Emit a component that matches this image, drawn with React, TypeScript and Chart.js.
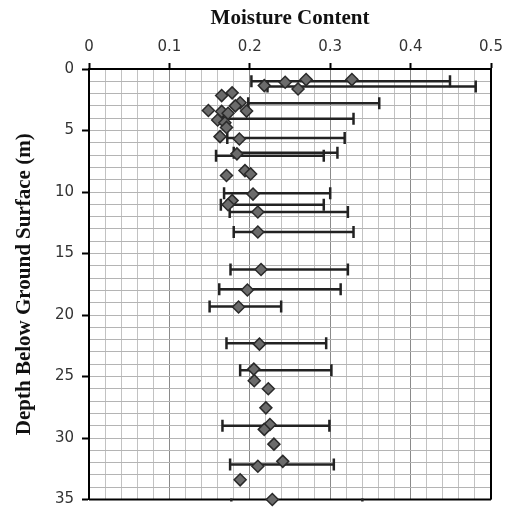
import React, { useEffect, useRef } from "react";
import { Chart, registerables } from "chart.js";

Chart.register(...registerables);

// Measured points: depth (m) and moisture content
const pointDepth = [0.86, 0.86, 1.08, 1.35, 1.62, 1.94, 2.16, 2.75, 3.0, 3.37, 3.45, 3.42, 3.6, 4.15, 4.37, 4.75, 5.5, 5.69, 6.9, 8.26, 8.53, 8.66, 10.17, 10.7, 11.04, 11.63, 13.25, 16.3, 17.97, 19.35, 22.37, 24.4, 25.34, 26.0, 27.55, 28.9, 29.3, 30.5, 31.9, 32.3, 33.4, 35.0];
const pointMoisture = [0.27, 0.327, 0.244, 0.218, 0.26, 0.178, 0.165, 0.188, 0.182, 0.1485, 0.165, 0.196, 0.173, 0.16, 0.169, 0.171, 0.163, 0.187, 0.184, 0.194, 0.201, 0.171, 0.204, 0.178, 0.173, 0.21, 0.21, 0.214, 0.197, 0.186, 0.212, 0.205, 0.2055, 0.223, 0.22, 0.225, 0.218, 0.23, 0.241, 0.21, 0.188, 0.228];

// Range bars: depth, low and high moisture
const barDepth = [1.0, 1.42, 2.78, 4.05, 5.6, 6.8, 7.05, 10.1, 11.04, 11.63, 13.25, 16.3, 17.9, 19.3, 22.3, 24.5, 29.0, 32.15, 35.4];
const barLow = [0.202, 0.222, 0.198, 0.167, 0.172, 0.18, 0.158, 0.168, 0.164, 0.175, 0.18, 0.176, 0.162, 0.15, 0.171, 0.188, 0.166, 0.1755, 0.177];
const barHigh = [0.449, 0.481, 0.361, 0.329, 0.318, 0.309, 0.292, 0.3, 0.292, 0.322, 0.329, 0.322, 0.313, 0.239, 0.295, 0.3015, 0.299, 0.3045, 0.34];

const xTickLabels = ["0", "0.1", "0.2", "0.3", "0.4", "0.5"];
const yTickLabels = ["0", "5", "10", "15", "20", "25", "30", "35"];

const xTitle = "Moisture Content";
const yTitle = "Depth Below Ground Surface (m)";

const framePlugin = {
  id: "frame",
  beforeDatasetsDraw(chart: any) {
    const { ctx, chartArea } = chart;
    ctx.save();
    ctx.strokeStyle = "#000";
    ctx.lineWidth = 2;
    ctx.beginPath();
    ctx.moveTo(chartArea.right, chartArea.top);
    ctx.lineTo(chartArea.right, chartArea.bottom);
    ctx.moveTo(chartArea.left, chartArea.bottom);
    ctx.lineTo(chartArea.right, chartArea.bottom);
    ctx.stroke();
    ctx.restore();
  },
};

const isMajorX = (v: number) => Math.abs(v * 10 - Math.round(v * 10)) < 1e-6;
const isMajorY = (v: number) => Math.round(v) % 5 === 0;

export default function App() {
  const ref = useRef<HTMLCanvasElement>(null);

  useEffect(() => {
    if (!ref.current) return;
    const points = pointDepth.map((d, i) => ({ x: pointMoisture[i], y: d }));
    const bars: any[] = [];
    barDepth.forEach((d, i) => {
      bars.push({ x: barLow[i], y: d });
      bars.push({ x: barHigh[i], y: d });
      bars.push({ x: null, y: null });
    });

    const chart = new Chart(ref.current, {
      type: "scatter",
      data: {
        datasets: [
          {
            label: "Moisture",
            data: points,
            showLine: false,
            pointStyle: "rectRot",
            pointRadius: 6,
            pointHoverRadius: 6,
            backgroundColor: "#6b6b6b",
            borderColor: "#2a2a2a",
            borderWidth: 1.5,
            clip: false as any,
          },
          {
            label: "Range",
            data: bars,
            showLine: true,
            spanGaps: false,
            borderColor: "#222",
            borderWidth: 2.5,
            pointStyle: "line",
            rotation: 90,
            pointRadius: 6,
            pointHoverRadius: 6,
            pointBorderColor: "#222",
            pointBorderWidth: 2.5,
            clip: { left: 5, top: 5, right: 5, bottom: 2 } as any,
          },
        ],
      },
      options: {
        animation: false,
        responsive: true,
        maintainAspectRatio: false,
        layout: { padding: { left: 0, top: 0, right: 15, bottom: 6 } },
        plugins: {
          legend: { display: false },
          tooltip: { enabled: false },
        },
        events: [],
        scales: {
          x: {
            type: "linear",
            position: "top",
            min: 0,
            max: 0.5,
            afterFit: (s: any) => {
              s.height = 69;
              s.paddingLeft = 0;
              s.paddingRight = 0;
            },
            ticks: {
              stepSize: 0.02,
              autoSkip: false,
              maxRotation: 0,
              padding: 7,
              color: "#333",
              font: { family: "DejaVu Sans", size: 15 },
              callback: (v: any) =>
                isMajorX(Number(v)) ? xTickLabels[Math.round(Number(v) * 10)] : "",
            },
            grid: {
              color: (c: any) => (c.tick && isMajorX(c.tick.value) ? "#8a8a8a" : "#c2c2c2"),
              lineWidth: 1,
              tickLength: 6,
              tickColor: (c: any) => (c.tick && isMajorX(c.tick.value) ? "#000" : "rgba(0,0,0,0)"),
              tickWidth: 2,
            },
            border: { color: "#000", width: 2 },
            title: {
              display: true,
              text: xTitle,
              color: "#111",
              font: { family: "Liberation Serif", weight: "bold", size: 21 },
              padding: { top: 6, bottom: 0 },
            },
          },
          y: {
            type: "linear",
            position: "left",
            reverse: true,
            min: 0,
            max: 35,
            afterFit: (s: any) => {
              s.width = 89;
              s.paddingTop = 0;
              s.paddingBottom = 0;
            },
            ticks: {
              stepSize: 1,
              autoSkip: false,
              padding: 8,
              color: "#333",
              font: { family: "DejaVu Sans", size: 15 },
              callback: (v: any) =>
                isMajorY(Number(v)) ? yTickLabels[Math.round(Number(v)) / 5] : "",
            },
            grid: {
              color: "#b4b4b4",
              lineWidth: 1,
              tickLength: 7,
              tickColor: (c: any) => (c.tick && isMajorY(c.tick.value) ? "#000" : "rgba(0,0,0,0)"),
              tickWidth: 2,
            },
            border: { color: "#000", width: 2 },
            title: {
              display: true,
              text: yTitle,
              color: "#111",
              font: { family: "Liberation Serif", weight: "bold", size: 21 },
              padding: { top: 12, bottom: 0 },
            },
          },
        },
      },
      plugins: [framePlugin],
    });
    return () => chart.destroy();
  }, []);

  return (
    <div style={{ position: "absolute", left: 0, top: 0, width: 506, height: 508 }}>
      <canvas ref={ref} />
    </div>
  );
}
